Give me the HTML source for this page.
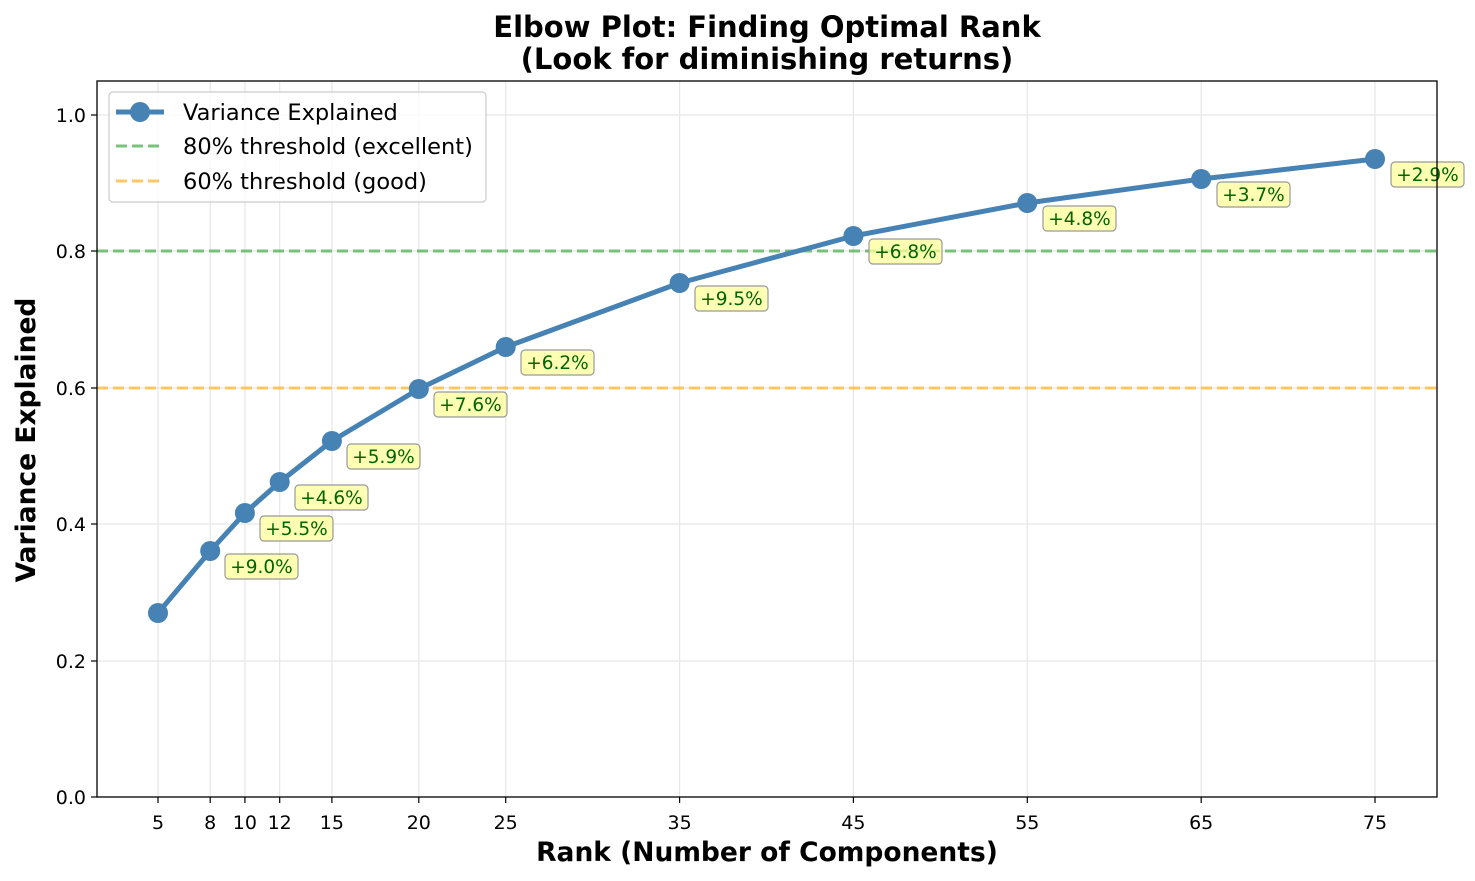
<!DOCTYPE html>
<html><head><meta charset="utf-8"><style>body{margin:0;background:#fff}svg{display:block;font-family:"DejaVu Sans","Liberation Sans",sans-serif}</style></head><body>
<svg width="1475" height="881" viewBox="0 0 1475 881" xmlns="http://www.w3.org/2000/svg">
<rect width="1475" height="881" fill="#fff"/>
<g stroke="#e6e6e6" stroke-width="1.2">
<line x1="97" x2="1437" y1="115" y2="115"/><line x1="97" x2="1437" y1="251" y2="251"/><line x1="97" x2="1437" y1="388" y2="388"/><line x1="97" x2="1437" y1="524" y2="524"/><line x1="97" x2="1437" y1="661" y2="661"/>
<line x1="158" x2="158" y1="81" y2="797"/><line x1="210.2" x2="210.2" y1="81" y2="797"/><line x1="244.9" x2="244.9" y1="81" y2="797"/><line x1="279.7" x2="279.7" y1="81" y2="797"/><line x1="331.9" x2="331.9" y1="81" y2="797"/><line x1="418.8" x2="418.8" y1="81" y2="797"/><line x1="505.7" x2="505.7" y1="81" y2="797"/><line x1="679.6" x2="679.6" y1="81" y2="797"/><line x1="853.4" x2="853.4" y1="81" y2="797"/><line x1="1027.3" x2="1027.3" y1="81" y2="797"/><line x1="1201.2" x2="1201.2" y1="81" y2="797"/><line x1="1375" x2="1375" y1="81" y2="797"/>
</g>
<line x1="97" x2="1437" y1="251" y2="251" stroke="#4caf50" stroke-opacity="0.75" stroke-width="3" stroke-dasharray="11,5"/>
<line x1="97" x2="1437" y1="388" y2="388" stroke="#ffb732" stroke-opacity="0.75" stroke-width="3" stroke-dasharray="11,5"/>
<polyline fill="none" stroke="#4682b4" stroke-width="5" stroke-linejoin="round" points="158,613 210.2,551 244.9,513 279.7,482 331.9,441 418.8,389 505.7,347 679.6,283 853.4,236 1027.3,203 1201.2,179 1375,159"/>
<g fill="#4682b4"><circle cx="158" cy="613" r="10"/><circle cx="210.2" cy="551" r="10"/><circle cx="244.9" cy="513" r="10"/><circle cx="279.7" cy="482" r="10"/><circle cx="331.9" cy="441" r="10"/><circle cx="418.8" cy="389" r="10"/><circle cx="505.7" cy="347" r="10"/><circle cx="679.6" cy="283" r="10"/><circle cx="853.4" cy="236" r="10"/><circle cx="1027.3" cy="203" r="10"/><circle cx="1201.2" cy="179" r="10"/><circle cx="1375" cy="159" r="10"/></g>
<g font-size="18.5" fill="#006400">
<g transform="translate(225,554)"><rect width="73" height="25" rx="4" fill="#ffff99" fill-opacity="0.75" stroke="#999" stroke-width="1.2"/><text x="36.5" y="19" text-anchor="middle">+9.0%</text></g>
<g transform="translate(260,516)"><rect width="73" height="25" rx="4" fill="#ffff99" fill-opacity="0.75" stroke="#999" stroke-width="1.2"/><text x="36.5" y="19" text-anchor="middle">+5.5%</text></g>
<g transform="translate(295,485)"><rect width="73" height="25" rx="4" fill="#ffff99" fill-opacity="0.75" stroke="#999" stroke-width="1.2"/><text x="36.5" y="19" text-anchor="middle">+4.6%</text></g>
<g transform="translate(347,444)"><rect width="73" height="25" rx="4" fill="#ffff99" fill-opacity="0.75" stroke="#999" stroke-width="1.2"/><text x="36.5" y="19" text-anchor="middle">+5.9%</text></g>
<g transform="translate(434,392)"><rect width="73" height="25" rx="4" fill="#ffff99" fill-opacity="0.75" stroke="#999" stroke-width="1.2"/><text x="36.5" y="19" text-anchor="middle">+7.6%</text></g>
<g transform="translate(521,350)"><rect width="73" height="25" rx="4" fill="#ffff99" fill-opacity="0.75" stroke="#999" stroke-width="1.2"/><text x="36.5" y="19" text-anchor="middle">+6.2%</text></g>
<g transform="translate(695,286)"><rect width="73" height="25" rx="4" fill="#ffff99" fill-opacity="0.75" stroke="#999" stroke-width="1.2"/><text x="36.5" y="19" text-anchor="middle">+9.5%</text></g>
<g transform="translate(869,239)"><rect width="73" height="25" rx="4" fill="#ffff99" fill-opacity="0.75" stroke="#999" stroke-width="1.2"/><text x="36.5" y="19" text-anchor="middle">+6.8%</text></g>
<g transform="translate(1043,206)"><rect width="73" height="25" rx="4" fill="#ffff99" fill-opacity="0.75" stroke="#999" stroke-width="1.2"/><text x="36.5" y="19" text-anchor="middle">+4.8%</text></g>
<g transform="translate(1217,182)"><rect width="73" height="25" rx="4" fill="#ffff99" fill-opacity="0.75" stroke="#999" stroke-width="1.2"/><text x="36.5" y="19" text-anchor="middle">+3.7%</text></g>
<g transform="translate(1391,162)"><rect width="73" height="25" rx="4" fill="#ffff99" fill-opacity="0.75" stroke="#999" stroke-width="1.2"/><text x="36.5" y="19" text-anchor="middle">+2.9%</text></g>
</g>
<rect x="97" y="81" width="1340" height="716" fill="none" stroke="#000" stroke-width="1.3"/>
<g stroke="#000" stroke-width="1.2">
<line x1="91" x2="97" y1="797" y2="797"/><line x1="91" x2="97" y1="661" y2="661"/><line x1="91" x2="97" y1="524" y2="524"/><line x1="91" x2="97" y1="388" y2="388"/><line x1="91" x2="97" y1="251" y2="251"/><line x1="91" x2="97" y1="115" y2="115"/>
<line x1="158" x2="158" y1="797" y2="803"/><line x1="210.2" x2="210.2" y1="797" y2="803"/><line x1="244.9" x2="244.9" y1="797" y2="803"/><line x1="279.7" x2="279.7" y1="797" y2="803"/><line x1="331.9" x2="331.9" y1="797" y2="803"/><line x1="418.8" x2="418.8" y1="797" y2="803"/><line x1="505.7" x2="505.7" y1="797" y2="803"/><line x1="679.6" x2="679.6" y1="797" y2="803"/><line x1="853.4" x2="853.4" y1="797" y2="803"/><line x1="1027.3" x2="1027.3" y1="797" y2="803"/><line x1="1201.2" x2="1201.2" y1="797" y2="803"/><line x1="1375" x2="1375" y1="797" y2="803"/>
</g>
<g font-size="19" fill="#000" text-anchor="end">
<text x="86" y="804">0.0</text><text x="86" y="668">0.2</text><text x="86" y="531">0.4</text><text x="86" y="395">0.6</text><text x="86" y="258">0.8</text><text x="86" y="122">1.0</text>
</g>
<g font-size="19" fill="#000" text-anchor="middle">
<text x="158" y="829">5</text><text x="210.2" y="829">8</text><text x="244.9" y="829">10</text><text x="279.7" y="829">12</text><text x="331.9" y="829">15</text><text x="418.8" y="829">20</text><text x="505.7" y="829">25</text><text x="679.6" y="829">35</text><text x="853.4" y="829">45</text><text x="1027.3" y="829">55</text><text x="1201.2" y="829">65</text><text x="1375" y="829">75</text>
</g>
<g font-weight="bold" text-anchor="middle" fill="#000">
<text x="767" y="37" font-size="29">Elbow Plot: Finding Optimal Rank</text>
<text x="767" y="69" font-size="29">(Look for diminishing returns)</text>
<text x="767" y="861" font-size="26.5">Rank (Number of Components)</text>
<text transform="translate(35,440) rotate(-90)" font-size="26.5">Variance Explained</text>
</g>
<rect x="109" y="92" width="377" height="110" rx="4" fill="#fff" fill-opacity="0.8" stroke="#ccc" stroke-width="1.2"/>
<line x1="116" x2="164" y1="112" y2="112" stroke="#4682b4" stroke-width="5"/><circle cx="140" cy="112" r="10" fill="#4682b4"/>
<line x1="116" x2="164" y1="146" y2="146" stroke="#4caf50" stroke-opacity="0.75" stroke-width="3" stroke-dasharray="11,5"/>
<line x1="116" x2="164" y1="181" y2="181" stroke="#ffb732" stroke-opacity="0.75" stroke-width="3" stroke-dasharray="11,5"/>
<g font-size="22.5" fill="#000"><text x="183" y="120">Variance Explained</text><text x="183" y="154">80% threshold (excellent)</text><text x="183" y="189">60% threshold (good)</text></g>
</svg>
</body></html>
